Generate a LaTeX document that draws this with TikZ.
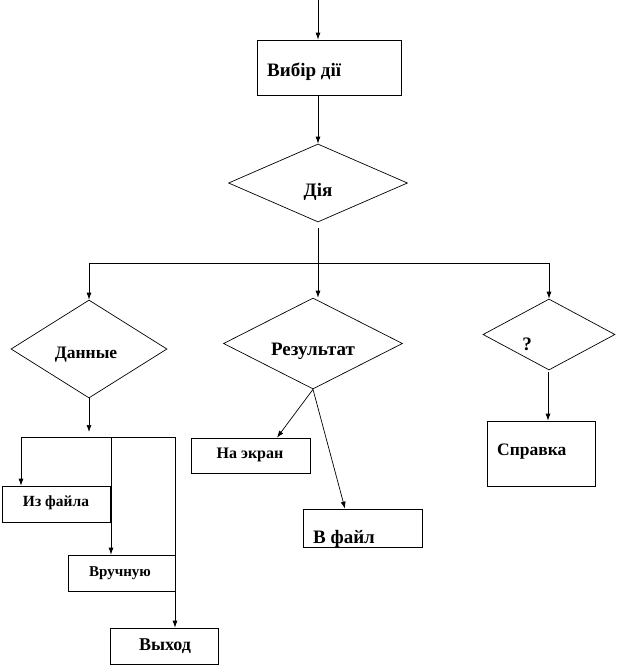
\documentclass[tikz,border=0pt]{standalone}
\usepackage{fontspec}
\setmainfont{Liberation Serif}
\usetikzlibrary{shapes.geometric,arrows.meta}
\tikzset{
  x=1pt,y=-1pt,
  ln/.style={line width=0.7pt},
  arr/.style={line width=0.7pt,-{Latex[length=7pt,width=5pt]}},
  box/.style={draw,line width=0.7pt,rectangle,inner sep=0pt},
  dia/.style={draw,line width=0.7pt,diamond,inner sep=0pt},
  txt/.style={font=\fontsize{#1}{#1}\selectfont\bfseries,inner sep=0pt},
}
\begin{document}
\begin{tikzpicture}
\useasboundingbox (0,0) rectangle (619,667);
% shapes
\node[box,minimum width=144pt,minimum height=55pt] (vybir) at (329,67.5) {};
\node[dia,minimum width=179pt,minimum height=78pt] (dia) at (318,183) {};
\node[dia,minimum width=156pt,minimum height=98pt] (dannye) at (89,349) {};
\node[dia,minimum width=179pt,minimum height=91pt] (rez) at (313,343.5) {};
\node[dia,minimum width=132pt,minimum height=71pt] (q) at (549,334.5) {};
\node[box,minimum width=108pt,minimum height=65pt] (spravka) at (541,453.5) {};
\node[box,minimum width=119pt,minimum height=35pt] (naekran) at (250.5,455.5) {};
\node[box,minimum width=119pt,minimum height=38pt] (vfail) at (362.5,528) {};
\node[box,minimum width=108pt,minimum height=36pt] (izfaila) at (56,504) {};
\node[box,minimum width=107pt,minimum height=36pt] (vruch) at (121.5,573) {};
\node[box,minimum width=108pt,minimum height=36pt] (vyhod) at (164,646) {};
% texts
\node[txt=19,anchor=west] (tvybir) at (267,72) {Вибір дії};
\node[txt=19] (tdia) at (318,192) {Дія};
\node[txt=17.5] (tdannye) at (86,355) {Данные};
\node[txt=19] (trez) at (313,351) {Результат};
\node[txt=19] (tq) at (527,344) {?};
\node[txt=17.5,anchor=west] (tspravka) at (497,452) {Справка};
\node[txt=16] (tnaekran) at (250,455) {На экран};
\node[txt=19,anchor=west] (tvfail) at (313,539) {В файл};
\node[txt=15.5] (tizfaila) at (56,503) {Из файла};
\node[txt=15] (tvruch) at (120,573) {Вручную};
\node[txt=18] (tvyhod) at (165,646) {Выход};
% coordinates
\coordinate (top) at (318,0);
\coordinate (diab) at (318,228);
\coordinate (s1) at (318,263);
\coordinate (s1l) at (89,263);
\coordinate (s1r) at (549,263);
\coordinate (dend) at (89,432);
\coordinate (s2l) at (21,437);
\coordinate (s2m) at (111,437);
\coordinate (s2r) at (175,437);
\coordinate (qb) at (548,372);
% connectors
\draw[arr] (top) -- (top |- vybir.north);
\draw[arr] (top |- vybir.south) -- (dia.north);
\draw[ln] (diab) -- (s1);
\draw[ln] (s1l) -- (s1r);
\draw[arr] (s1l) -- (dannye.north);
\draw[arr] (s1) -- (s1 |- rez.north);
\draw[arr] (s1r) -- (q.north);
\draw[arr] (qb) -- (qb |- spravka.north);
\draw[arr] (rez.south) -- ([xshift=26.5pt]naekran.north);
\draw[arr] (rez.south) -- ([xshift=-17.5pt]vfail.north);
\draw[arr] (dannye.south) -- (dend);
\draw[ln] (s2l) -- (s2r);
\draw[arr] (s2l) -- (s2l |- izfaila.north);
\draw[arr] (s2m) -- (s2m |- vruch.north);
\draw[arr] (s2r) -- (s2r |- vyhod.north);
\end{tikzpicture}
\end{document}
